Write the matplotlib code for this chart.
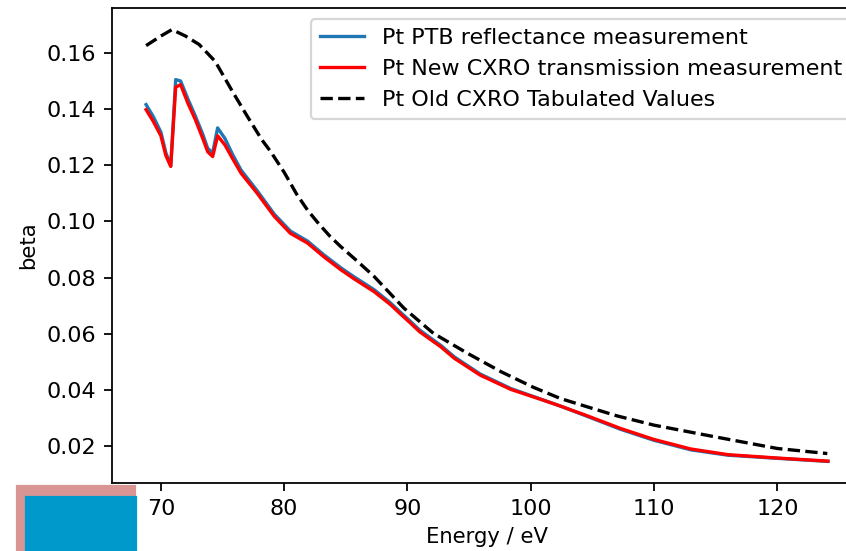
import matplotlib
matplotlib.use('Agg')
from matplotlib import pyplot as plt
from matplotlib.patches import Rectangle

# energies (eV) for the measured curves
energy = [68.8, 69.4, 70.0, 70.4, 70.8, 71.2, 71.6, 72.2, 72.8, 73.4, 73.8, 74.2,
          74.6, 75.2, 75.8, 76.5, 77.8, 79.2, 80.5, 81.9, 83.2, 84.6, 85.7, 87.3,
          88.6, 89.4, 90.2, 91.0, 92.7, 93.8, 95.9, 98.4, 100.8, 102.4, 104.6,
          107.3, 110.0, 113.0, 116.0, 120.0, 124.1]

beta_ptb = [0.1416, 0.1372, 0.1318, 0.1245, 0.1198, 0.1505, 0.1500, 0.1435, 0.1375,
            0.1310, 0.1260, 0.1244, 0.1333, 0.1295, 0.1240, 0.1183, 0.1110, 0.1026,
            0.0966, 0.0930, 0.0882, 0.0835, 0.0802, 0.0757, 0.0711, 0.0678, 0.0646,
            0.0613, 0.0559, 0.0518, 0.0457, 0.0405, 0.0368, 0.0343, 0.0306, 0.0260,
            0.0221, 0.0187, 0.0168, 0.0157, 0.0146]

beta_cxro_new = [0.1398, 0.1355, 0.1305, 0.1235, 0.1196, 0.1478, 0.1487, 0.1420,
                 0.1362, 0.1295, 0.1248, 0.1231, 0.1305, 0.1272, 0.1225, 0.1172,
                 0.1101, 0.1018, 0.0958, 0.0923, 0.0875, 0.0828, 0.0795, 0.0750,
                 0.0705, 0.0672, 0.0640, 0.0607, 0.0554, 0.0513, 0.0453, 0.0402,
                 0.0367, 0.0343, 0.0308, 0.0263, 0.0224, 0.0190, 0.0170, 0.0158,
                 0.0147]

# old tabulated values
energy_old = [68.8, 70.0, 70.9, 72.0, 73.1, 74.4, 75.8, 77.0, 78.2, 78.9, 80.0, 81.0,
              81.9, 82.8, 83.7, 84.6, 85.9, 87.3, 89.7, 92.1, 94.9, 97.6, 100.2,
              102.4, 104.6, 107.0, 110.0, 115.0, 120.0, 124.05]
beta_cxro_old = [0.1626, 0.1660, 0.1683, 0.1660, 0.1630, 0.1570, 0.1463, 0.1375,
                 0.1290, 0.1249, 0.1175, 0.1098, 0.1040, 0.0992, 0.0948, 0.0910,
                 0.0860, 0.0804, 0.0692, 0.0602, 0.0530, 0.0465, 0.0410, 0.0370,
                 0.0340, 0.0308, 0.0275, 0.0233, 0.0192, 0.0174]

fig = plt.figure(figsize=(846/160, 551/160), dpi=160)
ax = fig.add_axes([112/846, 68/551, 750/846, 475/551])

ax.plot(energy, beta_ptb, label='Pt PTB reflectance measurement')
ax.plot(energy, beta_cxro_new, color='red', label='Pt New CXRO transmission measurement')
ax.plot(energy_old, beta_cxro_old, 'k--', label='Pt Old CXRO Tabulated Values')
ax.set_xlabel('Energy / eV', fontsize=9.5)
ax.set_ylabel('beta', fontsize=9.5)
ax.legend(loc='upper right')

# coloured blocks in the lower left corner
fig.patches.append(Rectangle((16.7/846, 0), 118.3/846, 65/551, transform=fig.transFigure,
                             color='#d99594', zorder=5))
fig.patches.append(Rectangle((26/846, 0), 110/846, 54.3/551, transform=fig.transFigure,
                             color='#0099cc', zorder=6))

fig.savefig('out.png', dpi=160)
